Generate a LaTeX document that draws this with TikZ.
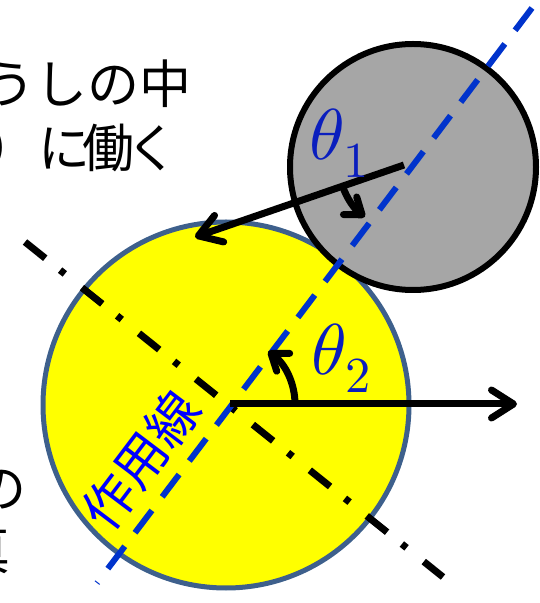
\documentclass[tikz,border=0pt]{standalone}
\usepackage{fontspec}
\usepackage{unicode-math}
\setmathfont{Latin Modern Math}
\newfontfamily\jp{Noto Sans CJK JP}
\usetikzlibrary{arrows.meta}
\definecolor{yfill}{RGB}{255,255,0}
\definecolor{yedge}{RGB}{62,96,140}
\definecolor{gfill}{RGB}{166,166,166}
\definecolor{lineblue}{RGB}{0,51,204}
\definecolor{thetablue}{RGB}{10,30,190}
\definecolor{textblue}{RGB}{0,0,255}
\tikzset{
  ball/.style={circle, inner sep=0pt, outer sep=0pt, minimum size=#1},
  forcearrow/.style={line width=7pt, -{Straight Barb[length=22pt,width=28pt,round]}},
  anglearrow/.style={line width=7pt, -{Straight Barb[length=15pt,width=22pt,round]}},
  actionline/.style={line width=6pt, draw=lineblue, dash pattern=on 28pt off 17pt},
  normalline/.style={line width=7pt, dash pattern=on 26pt off 19pt on 6pt off 22pt},
  jptext/.style={font=\jp\fontsize{52}{52}\selectfont, inner sep=0pt},
  thetalabel/.style={text=thetablue, font=\fontsize{72}{72}\selectfont, inner sep=0pt},
}
\begin{document}
\begin{tikzpicture}[x=1pt,y=1pt]
\useasboundingbox (0,0) rectangle (539,603);
\clip (0,0) rectangle (539,603);
% balls
\node[ball=366pt, fill=yfill, draw=yedge, line width=5pt] (Y) at (226,198) {};
\node[ball=246pt, fill=gfill, draw=black, line width=6pt] (G) at (413,436) {};
% reference points
\coordinate (B1) at (532,595);
\coordinate (B2) at (97,20);
\coordinate (N1) at (25,361);
\coordinate (N2) at (443,26);
\coordinate (P1) at (404,438);
\coordinate (F1) at (195,366);
\coordinate (P2) at (230,199);
\coordinate (F2) at (517,199);
% lines
\draw[normalline] (N1) -- (N2);
\draw[actionline] (B1) -- (B2);
% forces
\draw[forcearrow] (P1) -- (F1);
\draw[forcearrow] (P2) -- (F2);
% angles
\draw[anglearrow] ([shift={(199:65)}]P1) arc[start angle=199, end angle=233, radius=65];
\draw[anglearrow] ([shift={(0:65)}]P2) arc[start angle=0, end angle=54, radius=65];
\node[thetalabel] (t1) at (339,460) {$\theta_1$};
\node[thetalabel] (t2) at (341,245) {$\theta_2$};
% label of action line
\node[jptext, text=textblue, rotate=52.9] (L) at (141,143) {作用線};
% cut-off texts
\node[jptext, anchor=base east] (T1) at (192,499) {うしの中};
\node[jptext, anchor=base west] (T2) at (-14,435) {）に\kern-8pt 働\kern-8pt く};
\node[jptext, anchor=base east] (T3) at (27,95) {の};
\node[jptext, anchor=base east] (T4) at (11,33) {真};
\end{tikzpicture}
\end{document}
